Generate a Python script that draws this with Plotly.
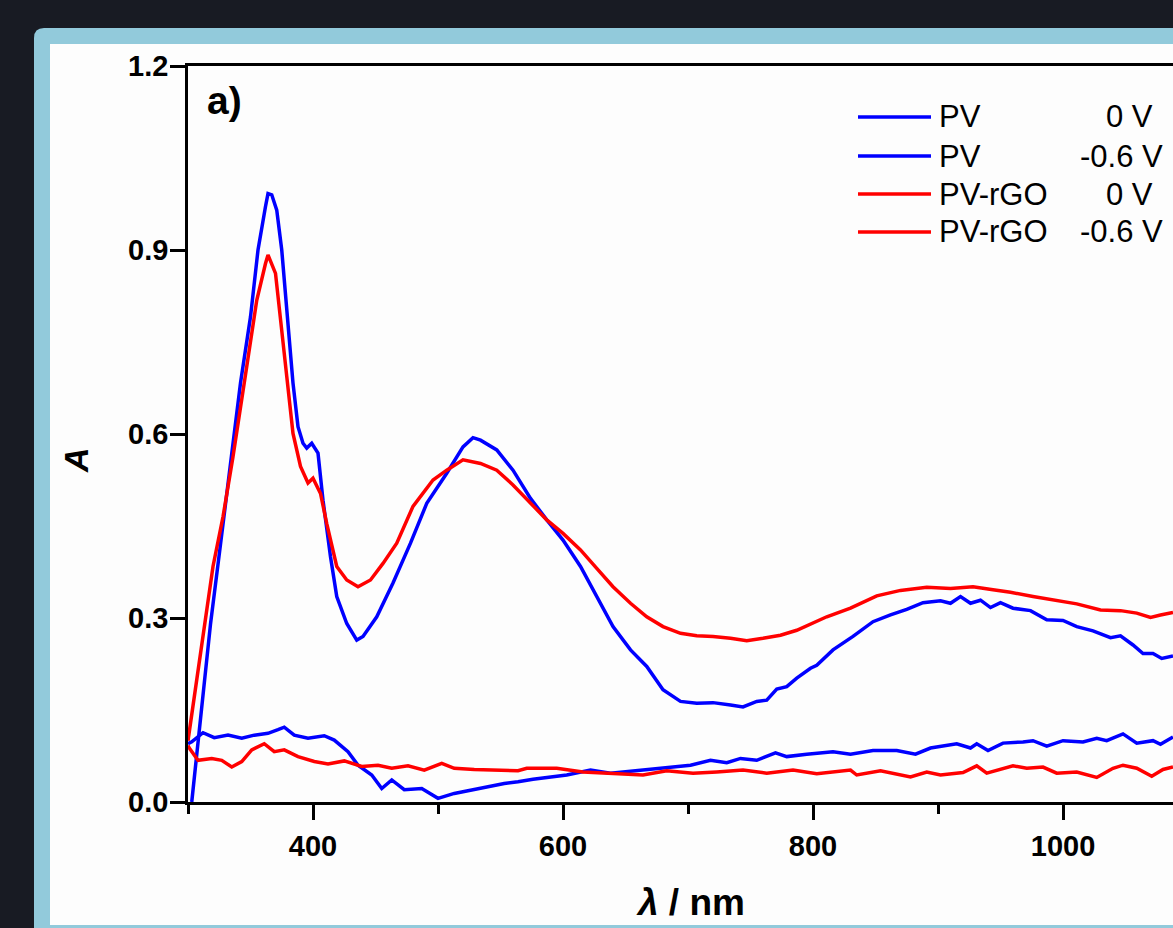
import plotly.graph_objects as go

# ---------------- data ----------------
pv0_x = [303, 310, 316, 318, 326, 334, 342, 350, 356, 362, 364, 367, 371, 375, 379, 384, 388, 392, 395,
         399, 404, 408, 414, 419, 427, 435, 440, 451, 464, 478, 491, 507, 520, 528, 534, 547, 560, 574,
         587, 600, 614, 627, 640, 654, 667, 680, 694, 707, 720, 734, 744, 755, 763, 771, 779, 787, 798,
         803, 816, 832, 848, 862, 875, 888, 902, 910, 918, 926, 934, 942, 950, 960, 974, 987, 1000,
         1011, 1024, 1038, 1046, 1056, 1064, 1072, 1079, 1088]
pv0_y = [0.0, 0.14, 0.25, 0.29, 0.42, 0.547, 0.683, 0.791, 0.900, 0.971, 0.992, 0.99, 0.965, 0.900, 0.802,
         0.683, 0.612, 0.585, 0.577, 0.585, 0.569, 0.492, 0.400, 0.335, 0.291, 0.264, 0.270, 0.302,
         0.357, 0.422, 0.487, 0.536, 0.579, 0.594, 0.590, 0.574, 0.541, 0.495, 0.460, 0.427, 0.384,
         0.335, 0.286, 0.248, 0.221, 0.183, 0.164, 0.161, 0.162, 0.158, 0.155, 0.164, 0.166, 0.184,
         0.188, 0.202, 0.218, 0.223, 0.248, 0.270, 0.294, 0.305, 0.314, 0.325, 0.328, 0.324, 0.335,
         0.324, 0.329, 0.317, 0.325, 0.316, 0.312, 0.297, 0.296, 0.286, 0.279, 0.268, 0.271, 0.256,
         0.242, 0.242, 0.234, 0.238]

pvneg_x = [300, 303, 312, 321, 332, 343, 353, 364, 372, 377, 385, 396, 409, 417, 428, 436, 447, 455, 463,
           473, 487, 500, 513, 527, 540, 553, 564, 576, 603, 622, 638, 662, 683, 702, 718, 731, 742, 755,
           770, 779, 795, 816, 830, 848, 867, 882, 894, 915, 926, 931, 940, 952, 968, 976, 987, 1000,
           1016, 1027, 1035, 1048, 1059, 1072, 1078, 1088]
pvneg_y = [0.095, 0.098, 0.113, 0.105, 0.109, 0.104, 0.109, 0.112, 0.118, 0.122, 0.109, 0.104, 0.108,
           0.101, 0.082, 0.060, 0.044, 0.022, 0.036, 0.020, 0.022, 0.006, 0.014, 0.020, 0.025, 0.030,
           0.033, 0.037, 0.044, 0.052, 0.047, 0.052, 0.055, 0.060, 0.068, 0.064, 0.071, 0.068, 0.080,
           0.074, 0.078, 0.082, 0.078, 0.084, 0.084, 0.078, 0.088, 0.095, 0.088, 0.095, 0.084, 0.096,
           0.098, 0.100, 0.091, 0.100, 0.098, 0.104, 0.100, 0.111, 0.096, 0.100, 0.094, 0.106]

rgo0_x = [300, 305, 310, 318, 320, 328, 336, 347, 355, 362, 364, 370, 374, 379, 384, 390, 396, 400, 406,
          411, 419, 427, 436, 446, 456, 467, 480, 496, 507, 520, 534, 547, 560, 574, 587, 600, 614, 627,
          640, 654, 667, 680, 694, 707, 720, 734, 747, 760, 774, 787, 798, 811, 830, 851, 870, 891, 910,
          928, 944, 958, 976, 995, 1011, 1030, 1046, 1059, 1070, 1078, 1088]
rgo0_y = [0.10, 0.17, 0.24, 0.36, 0.384, 0.465, 0.563, 0.710, 0.818, 0.878, 0.892, 0.862, 0.791, 0.694,
          0.601, 0.547, 0.520, 0.528, 0.503, 0.454, 0.384, 0.362, 0.351, 0.362, 0.389, 0.422, 0.482,
          0.525, 0.541, 0.558, 0.552, 0.541, 0.517, 0.487, 0.460, 0.438, 0.411, 0.381, 0.351, 0.324,
          0.302, 0.286, 0.275, 0.271, 0.270, 0.267, 0.263, 0.267, 0.272, 0.280, 0.290, 0.302, 0.316,
          0.336, 0.345, 0.350, 0.348, 0.351, 0.346, 0.342, 0.335, 0.329, 0.323, 0.313, 0.312, 0.308,
          0.301, 0.305, 0.309]

rgoneg_x = [300, 301, 308, 319, 327, 335, 343, 351, 361, 369, 377, 388, 401, 412, 425, 439, 452, 463,
            476, 489, 503, 513, 529, 545, 564, 571, 595, 616, 638, 664, 683, 704, 723, 744, 763, 784,
            803, 819, 830, 835, 854, 878, 891, 902, 920, 931, 939, 960, 971, 984, 995, 1011, 1027, 1040,
            1048, 1059, 1071, 1080, 1088]
rgoneg_y = [0.092, 0.088, 0.068, 0.071, 0.068, 0.057, 0.066, 0.085, 0.095, 0.082, 0.085, 0.074, 0.066,
            0.062, 0.067, 0.058, 0.060, 0.055, 0.059, 0.052, 0.063, 0.055, 0.053, 0.052, 0.051, 0.055,
            0.055, 0.049, 0.047, 0.044, 0.051, 0.047, 0.049, 0.052, 0.047, 0.052, 0.046, 0.049, 0.052,
            0.044, 0.051, 0.041, 0.049, 0.044, 0.048, 0.059, 0.047, 0.059, 0.055, 0.057, 0.047, 0.049,
            0.040, 0.055, 0.060, 0.055, 0.042, 0.053, 0.057]

series_x = [pv0_x, pvneg_x, rgo0_x, rgoneg_x]
series_y = [pv0_y, pvneg_y, rgo0_y, rgoneg_y]
series_names = ["PV", "PV", "PV-rGO", "PV-rGO"]
series_potentials = ["0 V", "-0.6 V", "0 V", "-0.6 V"]
series_colors = ["#0000FF", "#0000FF", "#FF0000", "#FF0000"]

x_ticks = [400, 600, 800, 1000]
y_ticks = [0.0, 0.3, 0.6, 0.9, 1.2]
x_range = [300, 1088]
y_range = [0, 1.2]

# ---------------- layout geometry (pixels) ----------------
W, H = 1173, 928
L, R, T, B = 188, 0, 66, 126
PW, PH = W - L - R, H - T - B
FONT = "Liberation Sans, Arial, sans-serif"


def px(x):
    return (x - L) / PW


def py(y):
    return (H - B - y) / PH


fig = go.Figure()
for xs, ys, nm, pot, col in zip(series_x, series_y, series_names, series_potentials, series_colors):
    fig.add_trace(go.Scatter(x=xs, y=ys, mode="lines", name=f"{nm} {pot}",
                             line=dict(color=col, width=3.5), showlegend=False))

shapes = []
# slide panel: light-blue rounded frame and white card
r = 10
x0, y0, x1, y1 = 34, 28, 1200, 960
path = (f"M{px(x0)},{py(y0 + r)} Q{px(x0)},{py(y0)} {px(x0 + r)},{py(y0)} "
        f"L{px(x1)},{py(y0)} L{px(x1)},{py(y1)} L{px(x0)},{py(y1)} Z")
shapes.append(dict(type="path", xref="paper", yref="paper", path=path,
                   fillcolor="#92CADB", line=dict(width=0), layer="below"))
shapes.append(dict(type="rect", xref="paper", yref="paper", x0=px(50), y0=py(44), x1=px(1200), y1=py(925),
                   fillcolor="#FDFDFD", line=dict(width=0), layer="below"))

annotations = [
    dict(text="<b>a)</b>", xref="paper", yref="paper", x=px(205), y=py(101),
         xanchor="left", yanchor="middle", showarrow=False,
         font=dict(family=FONT, size=39, color="black")),
    dict(text="<b><i>A</i></b>", xref="paper", yref="paper", x=px(76), y=py(460),
         xanchor="center", yanchor="middle", textangle=-90, showarrow=False,
         font=dict(family=FONT, size=34, color="black")),
    dict(text="<b><i>λ</i> / nm</b>", xref="paper", yref="paper", x=px(690), y=py(902),
         xanchor="center", yanchor="middle", showarrow=False,
         font=dict(family=FONT, size=37, color="black")),
]

# legend (drawn manually to match the long sample lines and two-column text)
legend_rows = [117, 156, 194, 232]
for yy, nm, pot, col in zip(legend_rows, series_names, series_potentials, series_colors):
    shapes.append(dict(type="line", xref="paper", yref="paper", x0=px(858), x1=px(931), y0=py(yy), y1=py(yy),
                       line=dict(color=col, width=3.5)))
    annotations.append(dict(text=nm, xref="paper", yref="paper", x=px(937), y=py(yy),
                            xanchor="left", yanchor="middle", showarrow=False,
                            font=dict(family=FONT, size=31, color="black")))
    xr = 1165 if pot.startswith("-") else 1155
    annotations.append(dict(text=pot, xref="paper", yref="paper", x=px(xr), y=py(yy),
                            xanchor="right", yanchor="middle", showarrow=False,
                            font=dict(family=FONT, size=31, color="black")))

fig.update_layout(
    width=W, height=H,
    margin=dict(l=L, r=R, t=T, b=B, pad=0),
    paper_bgcolor="#181B23",
    plot_bgcolor="#FDFDFD",
    shapes=shapes,
    annotations=annotations,
    showlegend=False,
    font=dict(family=FONT, color="black"),
)

fig.update_xaxes(
    range=x_range, tickmode="array", tickvals=x_ticks,
    showline=True, linecolor="black", linewidth=2.5, mirror=True,
    ticks="outside", ticklen=15, tickwidth=2.5, tickcolor="black",
    minor=dict(dtick=100, tick0=0, ticks="outside", ticklen=9, tickwidth=2.5, tickcolor="black"),
    showgrid=False, zeroline=False,
    tickfont=dict(family=FONT, size=29, color="black", weight="bold"),
    ticklabelstandoff=1,
    automargin=False,
)
fig.update_yaxes(
    range=y_range, tickmode="array", tickvals=y_ticks, tickformat=".1f",
    showline=True, linecolor="black", linewidth=2.5, mirror=False,
    ticks="outside", ticklen=15, tickwidth=2.5, tickcolor="black",
    showgrid=False, zeroline=False,
    tickfont=dict(family=FONT, size=29, color="black", weight="bold"),
    ticklabelstandoff=-4,
    automargin=False,
)

fig.write_html("out.html")
